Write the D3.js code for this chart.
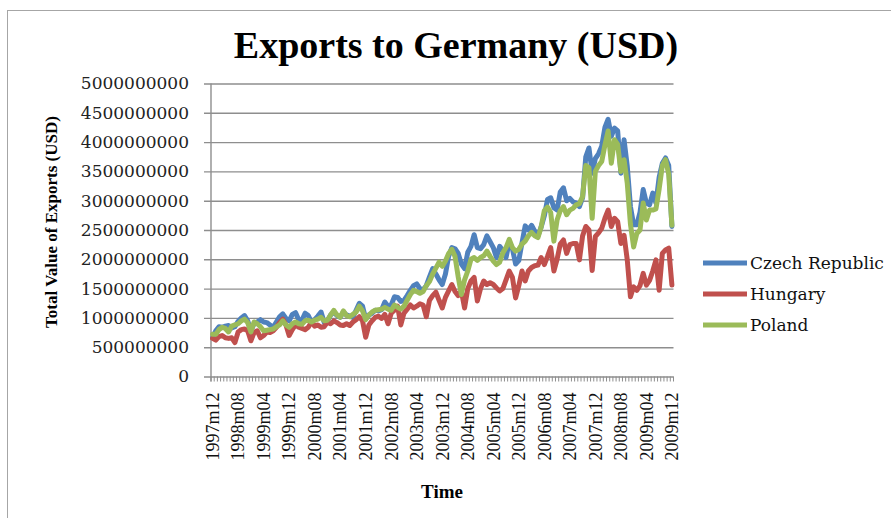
<!DOCTYPE html>
<html>
<head>
<meta charset="utf-8">
<script src="https://cdn.jsdelivr.net/npm/d3@7"></script>
<style>
  html, body { margin: 0; padding: 0; background: #fff; }
  svg { display: block; }
</style>
</head>
<body>
<svg id="chart" width="891" height="518"></svg>
<script>
// Monthly exports to Germany, 1997m12 .. 2009m12, in billions of USD
const startYear = 1997, startMonth = 12, monthCount = 145;

const czech = [
  0.66, 0.78, 0.85, 0.84, 0.86, 0.87, 0.83, 0.85, 0.94, 1.00, 1.04, 0.95, 0.78,
  0.90, 0.93, 0.97, 0.93, 0.92, 0.88, 0.84, 0.93, 1.02, 1.07, 0.99, 0.95,
  1.06, 1.09, 0.97, 0.96, 1.08, 1.04, 0.93, 0.97, 1.03, 1.10, 0.92, 0.95,
  1.05, 1.10, 1.04, 1.01, 1.10, 1.05, 1.03, 1.01, 1.13, 1.25, 1.20, 0.98,
  1.05, 1.08, 1.13, 1.12, 1.14, 1.27, 1.20, 1.22, 1.36, 1.35, 1.28, 1.30,
  1.38, 1.47, 1.55, 1.58, 1.50, 1.48, 1.55, 1.70, 1.84, 1.75, 1.65, 1.57,
  1.75, 2.05, 2.20, 2.18, 2.10, 1.92, 1.84, 2.12, 2.22, 2.42, 2.20, 2.18,
  2.25, 2.40, 2.30, 2.20, 2.03, 2.22, 2.15, 2.03, 2.30, 2.18, 1.92, 1.98,
  2.28, 2.57, 2.50, 2.58, 2.48, 2.40, 2.55, 2.74, 3.02, 3.05, 2.88, 2.84,
  3.15, 3.22, 3.00, 3.04, 2.98, 2.96, 2.90, 3.05, 3.75, 3.90, 3.47, 3.72,
  3.80, 3.93, 4.25, 4.39, 4.10, 4.24, 4.19, 3.47, 4.04, 3.59, 2.90, 2.59,
  2.59, 2.80, 3.19, 2.96, 2.93, 3.13, 2.96, 3.40, 3.64, 3.73, 3.60, 2.56
];

const hungary = [
  0.65, 0.62, 0.68, 0.70, 0.66, 0.65, 0.66, 0.58, 0.76, 0.80, 0.81, 0.78, 0.61,
  0.75, 0.78, 0.66, 0.70, 0.76, 0.75, 0.78, 0.84, 0.92, 0.98, 0.88, 0.70,
  0.80, 0.88, 0.84, 0.82, 0.80, 0.84, 0.93, 0.86, 0.88, 0.84, 0.85, 0.93,
  0.90, 0.95, 0.92, 0.88, 0.87, 0.90, 0.87, 0.93, 0.97, 1.02, 0.95, 0.67,
  0.88, 0.95, 1.01, 1.03, 0.99, 1.06, 0.90, 1.08, 1.13, 1.20, 0.88, 1.08,
  1.15, 1.22, 1.17, 1.20, 1.24, 1.22, 1.02, 1.30, 1.38, 1.44, 1.30, 1.17,
  1.35, 1.46, 1.57, 1.45, 1.38, 1.46, 1.17, 1.50, 1.63, 1.69, 1.29, 1.50,
  1.63, 1.57, 1.60, 1.57, 1.51, 1.46, 1.50, 1.65, 1.80, 1.69, 1.34, 1.55,
  1.80, 1.63, 1.80, 1.86, 1.89, 1.90, 2.03, 1.91, 2.05, 2.20, 1.80, 2.00,
  2.26, 2.33, 2.10, 2.25, 2.27, 2.27, 1.99, 2.40, 2.56, 2.50, 1.81, 2.39,
  2.45, 2.53, 2.70, 2.84, 2.56, 2.70, 2.64, 2.27, 2.41, 1.99, 1.36, 1.53,
  1.47, 1.55, 1.76, 1.56, 1.64, 1.80, 1.99, 1.47, 2.10, 2.16, 2.19, 1.56
];

const poland = [
  0.72, 0.72, 0.80, 0.84, 0.82, 0.76, 0.86, 0.88, 0.90, 0.95, 0.98, 0.92, 0.76,
  0.93, 0.90, 0.85, 0.78, 0.79, 0.80, 0.81, 0.85, 0.88, 0.95, 0.88, 0.84,
  0.90, 0.93, 0.90, 0.89, 0.95, 0.96, 0.93, 0.96, 0.98, 1.01, 0.95, 0.96,
  1.05, 1.13, 1.05, 1.01, 1.12, 1.04, 1.02, 1.06, 1.10, 1.20, 1.12, 0.97,
  1.05, 1.10, 1.13, 1.14, 1.15, 1.18, 1.15, 1.13, 1.22, 1.18, 1.15, 1.20,
  1.30, 1.40, 1.47, 1.45, 1.42, 1.45, 1.55, 1.62, 1.75, 1.85, 1.95, 1.88,
  1.97, 2.10, 2.17, 2.05, 1.70, 1.40, 1.65, 1.80, 2.00, 2.03, 1.98, 2.03,
  2.06, 2.14, 2.05, 1.97, 1.91, 1.95, 2.11, 2.20, 2.34, 2.20, 2.14, 2.17,
  2.26, 2.31, 2.40, 2.46, 2.40, 2.37, 2.55, 2.83, 2.89, 2.80, 2.31, 2.67,
  2.83, 2.90, 2.76, 2.84, 2.87, 2.93, 2.95, 3.07, 3.60, 3.56, 2.70, 3.50,
  3.60, 3.67, 3.95, 4.19, 3.64, 4.04, 3.96, 3.50, 3.70, 3.30, 2.60, 2.21,
  2.44, 2.50, 2.96, 2.67, 2.84, 2.84, 2.86, 3.20, 3.60, 3.70, 3.45, 2.58
];

const seriesNames = ["Czech Republic", "Hungary", "Poland"];
const seriesColors = ["#4F81BD", "#C0504D", "#9BBB59"];

const tickLabels = [
  "1997m12", "1998m08", "1999m04", "1999m12", "2000m08", "2001m04", "2001m12",
  "2002m08", "2003m04", "2003m12", "2004m08", "2005m04", "2005m12", "2006m08",
  "2007m04", "2007m12", "2008m08", "2009m04", "2009m12"
];

const yTicks = [0, 0.5e9, 1e9, 1.5e9, 2e9, 2.5e9, 3e9, 3.5e9, 4e9, 4.5e9, 5e9];

// category labels such as "1997m12"
const months = d3.range(monthCount).map(k => {
  const m0 = startMonth - 1 + k;
  const yr = startYear + Math.floor(m0 / 12);
  const m = (m0 % 12) + 1;
  return yr + "m" + String(m).padStart(2, "0");
});

const series = seriesNames.map((name, s) => ({
  name,
  color: seriesColors[s],
  values: [czech, hungary, poland][s].map((v, k) => ({ month: months[k], value: v * 1e9 }))
}));

const svg = d3.select("#chart");

// chart-area frame
svg.append("rect")
  .attr("x", 7.5).attr("y", 10.5)
  .attr("width", 1000).attr("height", 1000)
  .attr("fill", "none").attr("stroke", "#a6a6a6").attr("stroke-width", 1);

const plot = { left: 211, right: 673.5, top: 83.5, bottom: 376.5 };

const x = d3.scaleBand().domain(months).range([plot.left, plot.right]).padding(0);
const y = d3.scaleLinear().domain([0, 5e9]).range([plot.bottom, plot.top]);
const xc = m => x(m) + x.bandwidth() / 2;

const serif = "'DejaVu Serif', serif";
const times = "'Liberation Serif', 'Times New Roman', serif";

// horizontal gridlines and y axis
const yAxis = d3.axisLeft(y)
  .tickValues(yTicks)
  .tickSize(-(plot.right - plot.left))
  .tickPadding(16)
  .tickFormat(d3.format("d"));
const gy = svg.append("g").attr("transform", `translate(${plot.left},0)`).call(yAxis);
gy.select(".domain").remove();
gy.selectAll(".tick line")
  .attr("x1", -7)
  .attr("stroke", "#8e8e8e").attr("stroke-width", 1.4);
gy.selectAll(".tick text")
  .attr("font-family", serif).attr("font-size", 17).attr("fill", "#222")
  .attr("x", -22);

// vertical axis line
svg.append("line")
  .attr("x1", plot.left).attr("x2", plot.left)
  .attr("y1", y(5e9)).attr("y2", y(0) + 5)
  .attr("stroke", "#8e8e8e").attr("stroke-width", 1.4);

// category tick marks along the bottom
const boundaries = months.map(m => x(m)).concat([plot.right]);
svg.append("g").selectAll("line").data(boundaries).join("line")
  .attr("x1", d => d).attr("x2", d => d)
  .attr("y1", y(0)).attr("y2", y(0) + 5)
  .attr("stroke", "#8e8e8e").attr("stroke-width", 1);

// rotated category labels
const xAxis = d3.axisBottom(x).tickValues(tickLabels).tickSize(0);
const gx = svg.append("g").attr("transform", `translate(0,${y(0)})`).call(xAxis);
gx.select(".domain").remove();
gx.selectAll(".tick text")
  .attr("font-family", times).attr("font-size", 18).attr("fill", "#111")
  .attr("transform", "rotate(-90)")
  .attr("text-anchor", "end")
  .attr("x", -16).attr("y", 0).attr("dy", "0.35em");

// series lines
const line = d3.line()
  .x(d => xc(d.month))
  .y(d => y(d.value));

svg.append("g").selectAll("path").data(series).join("path")
  .attr("d", d => line(d.values))
  .attr("fill", "none")
  .attr("stroke", d => d.color)
  .attr("stroke-width", 5)
  .attr("stroke-linejoin", "round")
  .attr("stroke-linecap", "round");

// title
svg.append("text")
  .attr("x", 456).attr("y", 58)
  .attr("text-anchor", "middle")
  .attr("font-family", times).attr("font-weight", "bold").attr("font-size", 38)
  .attr("fill", "#000")
  .text("Exports to Germany (USD)");

// axis titles
svg.append("text")
  .attr("transform", "translate(57,222) rotate(-90)")
  .attr("text-anchor", "middle")
  .attr("font-family", times).attr("font-weight", "bold").attr("font-size", 17)
  .attr("fill", "#000")
  .text("Total Value of Exports (USD)");

svg.append("text")
  .attr("x", 442).attr("y", 498)
  .attr("text-anchor", "middle")
  .attr("font-family", times).attr("font-weight", "bold").attr("font-size", 19)
  .attr("fill", "#000")
  .text("Time");

// legend
const legend = svg.append("g").selectAll("g").data(series).join("g")
  .attr("transform", (d, k) => `translate(703,${263 + k * 31})`);
legend.append("line")
  .attr("x1", 0).attr("x2", 44)
  .attr("stroke", d => d.color).attr("stroke-width", 5);
legend.append("text")
  .attr("x", 47).attr("dy", "0.35em")
  .attr("font-family", serif).attr("font-size", 17).attr("fill", "#111")
  .text(d => d.name);
</script>
</body>
</html>
